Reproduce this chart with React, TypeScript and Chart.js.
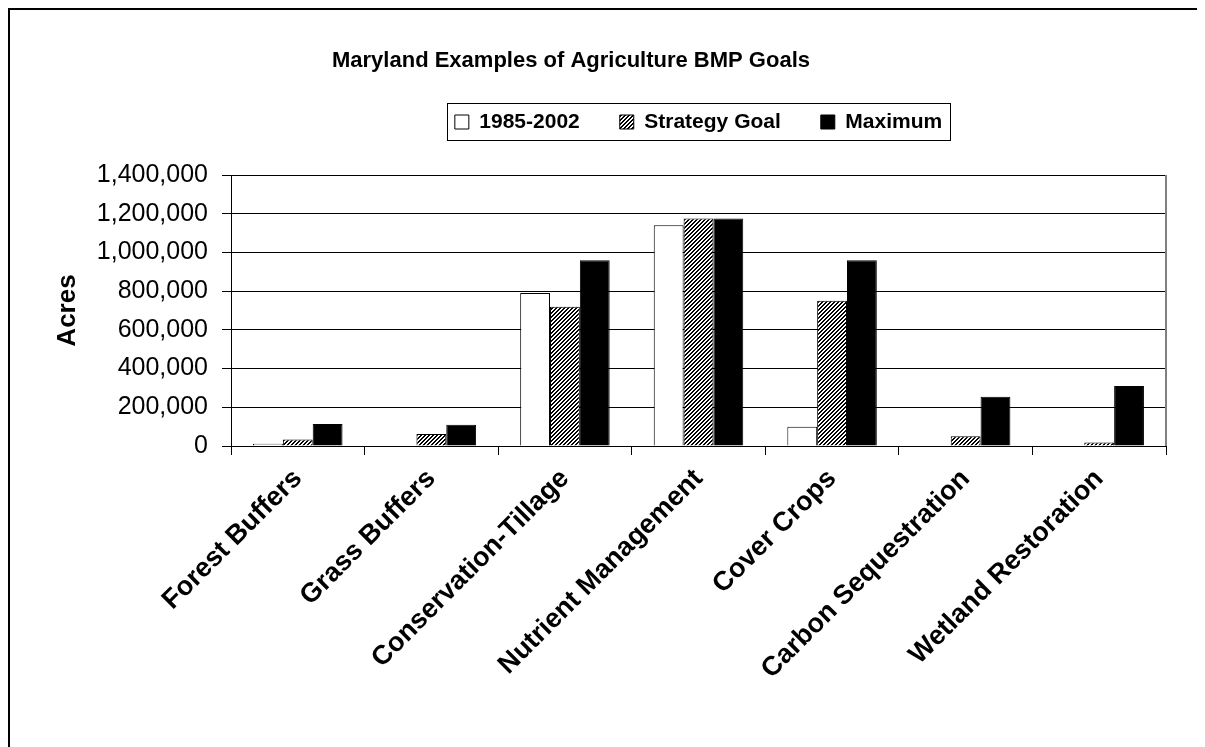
import React, { useEffect, useRef } from 'react';
import { Chart, registerables } from 'chart.js';

Chart.register(...registerables);

const chartTitle = 'Maryland Examples of Agriculture BMP Goals';
const yAxisTitle = 'Acres';
const categories = [
  'Forest Buffers',
  'Grass Buffers',
  'Conservation-Tillage',
  'Nutrient Management',
  'Cover Crops',
  'Carbon Sequestration',
  'Wetland Restoration',
];
const seriesNames = ['1985-2002', 'Strategy Goal', 'Maximum'];
const values1985to2002 = [12000, 3000, 790000, 1140000, 100000, 0, 3000];
const valuesStrategyGoal = [33000, 62000, 720000, 1175000, 750000, 50000, 18000];
const valuesMaximum = [114000, 110000, 960000, 1175000, 960000, 255000, 310000];
const yMin = 0;
const yMax = 1400000;
const yStep = 200000;

const FONT = "Arial, 'Liberation Sans', sans-serif";

function makeHatch(): CanvasPattern | string {
  const c = document.createElement('canvas');
  c.width = 4;
  c.height = 4;
  const g = c.getContext('2d');
  if (!g) return '#888';
  g.fillStyle = '#ffffff';
  g.fillRect(0, 0, 4, 4);
  g.fillStyle = '#000000';
  for (let i = 0; i < 4; i++) {
    g.fillRect(i, 3 - i, 1, 1);
    g.fillRect(i, (4 - i) % 4, 1, 1);
  }
  const p = g.createPattern(c, 'repeat');
  return p || '#888';
}

const legendFramePlugin = {
  id: 'legendFrame',
  afterDraw(chart: any) {
    const lg = chart.legend;
    if (!lg || !lg.legendHitBoxes || !lg.legendHitBoxes.length) return;
    const hb = lg.legendHitBoxes;
    const left = Math.min(...hb.map((h: any) => h.left)) - 8;
    const right = Math.max(...hb.map((h: any) => h.left + h.width)) + 8;
    const ctx = chart.ctx;
    ctx.save();
    ctx.strokeStyle = '#000';
    ctx.lineWidth = 1;
    ctx.strokeRect(Math.round(left) + 0.5, 93.5, Math.round(right - left), 37);
    ctx.restore();
  },
};

const plotFramePlugin = {
  id: 'plotFrame',
  afterDatasetsDraw(chart: any) {
    const a = chart.chartArea;
    const ctx = chart.ctx;
    ctx.save();
    ctx.strokeStyle = '#808080';
    ctx.lineWidth = 2;
    ctx.beginPath();
    ctx.moveTo(a.right, a.top);
    ctx.lineTo(a.right, a.bottom);
    ctx.stroke();
    ctx.restore();
  },
};

export default function App() {
  const ref = useRef<HTMLCanvasElement | null>(null);

  useEffect(() => {
    document.documentElement.style.overflow = 'hidden';
    document.body.style.overflow = 'hidden';
    const canvas = ref.current;
    if (!canvas) return;
    const hatch = makeHatch();
    const chart = new Chart(canvas, {
      type: 'bar',
      data: {
        labels: categories,
        datasets: [
          {
            label: seriesNames[0],
            data: values1985to2002,
            backgroundColor: '#ffffff',
            borderColor: '#000000',
            borderWidth: 1,
          },
          {
            label: seriesNames[1],
            data: valuesStrategyGoal,
            backgroundColor: hatch as any,
            borderColor: '#000000',
            borderWidth: 1,
          },
          {
            label: seriesNames[2],
            data: valuesMaximum,
            backgroundColor: '#000000',
            borderColor: '#000000',
            borderWidth: 1,
          },
        ],
      },
      options: {
        responsive: false,
        animation: false,
        events: [],
        layout: { padding: { left: -34, right: 39, top: 0, bottom: 0 } },
        datasets: {
          bar: { categoryPercentage: 0.67, barPercentage: 1 },
        },
        plugins: {
          tooltip: { enabled: false },
          title: {
            display: true,
            text: chartTitle,
            color: '#000',
            font: { family: FONT, size: 22, weight: 'bold', lineHeight: 1.2 },
            padding: { top: 37.8, bottom: -2.7 },
          },
          legend: {
            display: true,
            position: 'top',
            fullSize: false,
            labels: {
              color: '#000',
              font: { family: FONT, size: 21, weight: 'bold' },
              boxWidth: 14,
              boxHeight: 14,
              padding: 40,
            },
          },
          subtitle: {
            display: true,
            text: '',
            weight: 500,
            font: { family: FONT, size: 10, lineHeight: 1 },
            padding: { top: 22.5, bottom: 0 },
          } as any,
        },
        scales: {
          x: {
            type: 'category',
            afterFit(scale: any) {
              scale.height = 301;
            },
            grid: {
              display: true,
              drawOnChartArea: false,
              drawTicks: true,
              tickLength: 9,
              color: '#000',
              offset: true,
            },
            border: { display: true, color: '#000', width: 1 },
            ticks: {
              color: '#000',
              font: { family: FONT, size: 27, weight: 'bold' },
              minRotation: 45,
              maxRotation: 45,
              autoSkip: false,
              padding: 8,
            },
          },
          y: {
            min: yMin,
            max: yMax,
            afterFit(scale: any) {
              scale.width = 255;
            },
            grid: {
              color: '#000',
              lineWidth: 1,
              tickLength: 9,
              drawTicks: true,
            },
            border: { display: true, color: '#000', width: 1 },
            ticks: {
              stepSize: yStep,
              color: '#000',
              font: { family: FONT, size: 25 },
              padding: 14,
              callback: (v: any) => Number(v).toLocaleString('en-US'),
            },
            title: {
              display: true,
              text: yAxisTitle,
              color: '#000',
              font: { family: FONT, size: 26, weight: 'bold', lineHeight: 1.2 },
              padding: { top: 76, bottom: 0 },
            },
          },
        },
      },
      plugins: [legendFramePlugin, plotFramePlugin],
    });
    return () => chart.destroy();
  }, []);

  return (
    <div
      style={{
        width: 1197,
        height: 739,
        borderLeft: '2px solid #000',
        borderTop: '2px solid #000',
        boxSizing: 'border-box',
        overflow: 'hidden',
        background: '#fff',
      }}
    >
      <canvas ref={ref} width={1195} height={737} style={{ display: 'block' }} />
    </div>
  );
}
